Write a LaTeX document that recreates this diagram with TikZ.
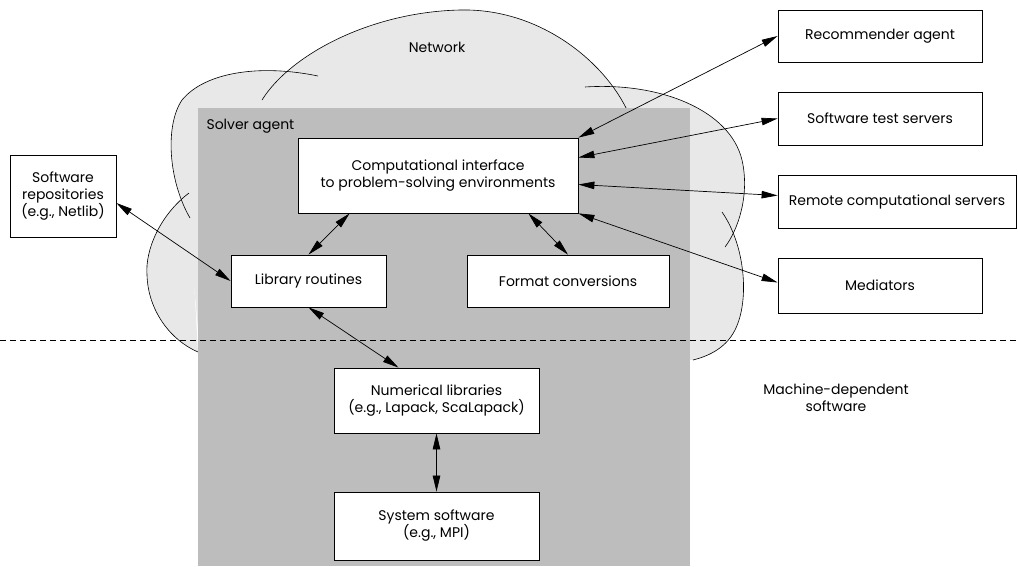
\documentclass[tikz,border=0pt]{standalone}
\usepackage{fontspec}
\setmainfont{Poppins}
\usetikzlibrary{arrows.meta}

\begin{document}
\begin{tikzpicture}[x=1pt,y=-1pt,
        font=\fontsize{14}{17}\selectfont,
        >={Triangle[length=16pt,width=7.5pt]},
        agentbox/.style={draw,fill=white,line width=0.8pt,align=center,inner sep=2pt},
        link/.style={<->,line width=0.7pt},
        netfill/.style={fill=gray!18},
        netline/.style={line width=0.6pt},
        solverfill/.style={fill=gray!52}]
        \useasboundingbox (0,0) rectangle (1018,566);
        \fill[netfill] (200,352) -- (187,205) -- (240,110) -- (300,80) -- (460,40) -- (600,90) -- (720,215) -- (725,245) -- (693,360) -- cycle;
        \fill[netfill] (318,76) .. controls (260,64) and (205,72) .. (182,100) .. controls (165,125) and (168,180) .. (190,218) -- cycle;
        \fill[netfill] (262,100) .. controls (290,55) and (370,12) .. (460,10) .. controls (540,8) and (605,62) .. (628,112) -- cycle;
        \fill[netfill] (585,87) .. controls (660,82) and (730,110) .. (742,160) .. controls (750,195) and (738,230) .. (725,247) -- cycle;
        \fill[netfill] (722,212) .. controls (745,245) and (750,300) .. (735,330) .. controls (725,350) and (705,357) .. (693,360) -- cycle;
        \fill[netfill] (189,193) .. controls (160,215) and (145,250) .. (147,275) .. controls (148,310) and (170,340) .. (198,352) -- cycle;
        \draw[netline] (318,76) .. controls (260,64) and (205,72) .. (182,100) .. controls (165,125) and (168,180) .. (190,218);
        \draw[netline] (262,100) .. controls (290,55) and (370,12) .. (460,10) .. controls (540,8) and (605,62) .. (628,112);
        \draw[netline] (585,87) .. controls (660,82) and (730,110) .. (742,160) .. controls (750,195) and (738,230) .. (725,247);
        \draw[netline] (722,212) .. controls (745,245) and (750,300) .. (735,330) .. controls (725,350) and (705,357) .. (693,360);
        \draw[netline] (189,193) .. controls (160,215) and (145,250) .. (147,275) .. controls (148,310) and (170,340) .. (198,352);
        \fill[solverfill] (198,108) rectangle (690,566);
        \coordinate (divleft) at (0,340);
        \coordinate (divright) at (1018,340);
        \draw[dash pattern=on 6pt off 4pt,line width=0.6pt] (divleft) -- (divright);
        \node[agentbox,minimum width=204pt,minimum height=52pt] (recommender) at (880,36) {Recommender agent};
        \node[agentbox,minimum width=204pt,minimum height=53pt] (testserv) at (880,118.5) {Software test servers};
        \node[agentbox,minimum width=238pt,minimum height=53pt] (remote) at (897,201.5) {Remote computational servers};
        \node[agentbox,minimum width=204pt,minimum height=55pt] (mediators) at (880,285.5) {Mediators};
        \node[agentbox,minimum width=106pt,minimum height=82pt] (repos) at (63,196) {Software\\repositories\\(e.g., Netlib)};
        \node[agentbox,minimum width=280pt,minimum height=75pt] (compint) at (438,175.5) {Computational interface\\to problem-solving environments};
        \node[agentbox,minimum width=155pt,minimum height=52pt] (librout) at (308.5,281) {Library routines};
        \node[agentbox,minimum width=202pt,minimum height=52pt] (format) at (568,281) {Format conversions};
        \node[agentbox,minimum width=205pt,minimum height=65pt] (numlib) at (436.5,400.5) {Numerical libraries\\(e.g., Lapack, ScaLapack)};
        \node[agentbox,minimum width=205pt,minimum height=68pt] (syssoft) at (436.5,526) {System software\\(e.g., MPI)};
        \node[anchor=west] (solverlabel) at (203,126) {Solver agent};
        \node (netlabel) at (437,47) {Network};
        \node[align=center] (machlabel) at (836,398) {Machine-dependent\\software};
        \draw[link] (recommender.west) -- (compint.north east);
        \draw[link] (testserv.west) -- ([yshift=18pt]compint.east);
        \draw[link] ([yshift=6pt]remote.west) -- ([yshift=-9pt]compint.east);
        \draw[link] ([yshift=3pt]mediators.west) -- (compint.south east);
        \draw[link] ([yshift=-7pt]repos.east) -- (librout.west);
        \draw[link] ([xshift=52pt]compint.south west) -- (librout.north);
        \draw[link] ([xshift=-50pt]compint.south east) -- (format.north);
        \draw[link] (librout.south) -- ([xshift=-38pt]numlib.north);
        \draw[link] (numlib.south) -- (syssoft.north);
    \end{tikzpicture}
\end{document}
